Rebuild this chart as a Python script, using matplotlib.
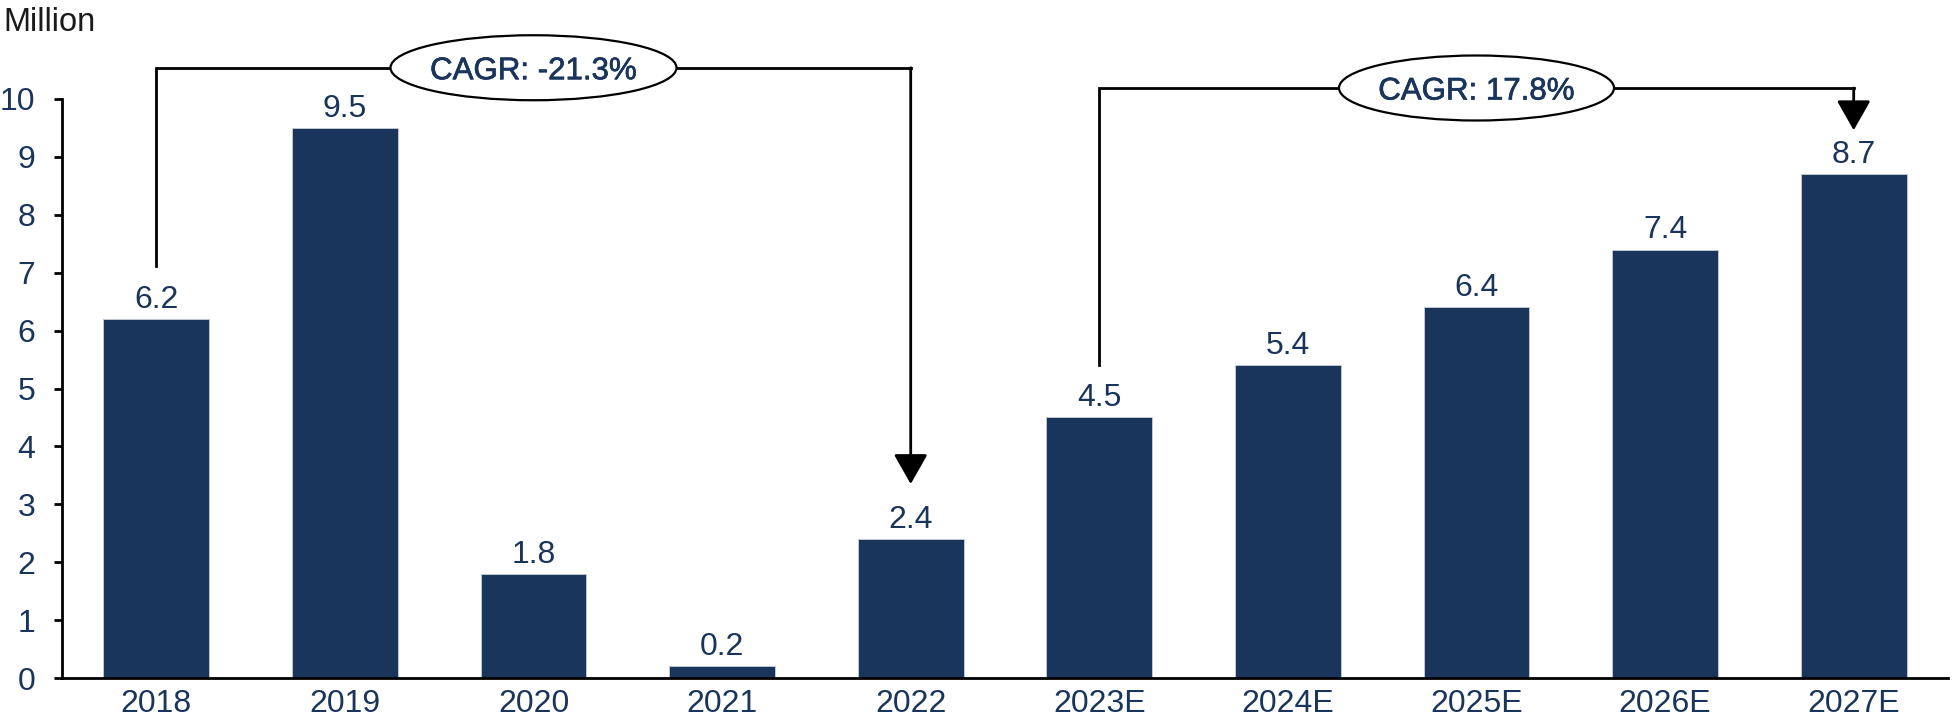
import matplotlib
matplotlib.use("Agg")
import matplotlib.pyplot as plt
from matplotlib.patches import Ellipse
import matplotlib.patheffects as pe

plt.rcParams['font.family'] = ['Liberation Sans', 'DejaVu Sans']

# ---- data ----
categories = ["2018", "2019", "2020", "2021", "2022",
              "2023E", "2024E", "2025E", "2026E", "2027E"]
values = [6.2, 9.5, 1.8, 0.2, 2.4, 4.5, 5.4, 6.4, 7.4, 8.7]
value_labels = ["6.2", "9.5", "1.8", "0.2", "2.4", "4.5", "5.4", "6.4", "7.4", "8.7"]
y_ticks = [0, 1, 2, 3, 4, 5, 6, 7, 8, 9, 10]
unit_label = "Million"
cagr_texts = ["CAGR: -21.3%", "CAGR: 17.8%"]
cagr_from = [0, 5]   # index of start bar
cagr_to = [4, 9]     # index of end bar

# ---- style ----
NAVY = "#1A355B"
W, H, DPI = 1953, 728, 100

fig = plt.figure(figsize=(W / DPI, H / DPI), dpi=DPI)
ax = fig.add_axes([62 / W, 50 / H, (1948 - 62) / W, (678 - 99) / H])

x = list(range(len(categories)))
ax.bar(x, values, width=0.56, color=NAVY, edgecolor="#c9ced6", linewidth=0.6, zorder=2)

for xi, v, lab in zip(x, values, value_labels):
    ax.annotate(lab, xy=(xi, v), xytext=(0, 3), textcoords="offset points",
                ha="center", va="bottom", fontsize=23, color=NAVY)

ax.set_xlim(-0.5, len(categories) - 0.5)
ax.set_ylim(0, 10)
ax.set_yticks(y_ticks)
ax.set_yticklabels([str(t) for t in y_ticks])
ax.set_xticks(x)
ax.set_xticklabels(categories)

for s in ["top", "right"]:
    ax.spines[s].set_visible(False)
ax.spines["left"].set_linewidth(2.0)
ax.spines["bottom"].set_linewidth(2.0)
ax.tick_params(axis="y", direction="out", length=5.8, width=2.0, pad=13.5,
               labelsize=23, labelcolor=NAVY, color="black")
ax.tick_params(axis="x", length=0, pad=8, labelsize=23, labelcolor=NAVY)

fig.text(3 / W, 1 - 31 / H, unit_label, fontsize=23.5, color="#1a1a1a",
         ha="left", va="baseline")

# ---- CAGR brackets ----
top_levels = [10.54, 10.19]
start_gap = [0.92, 0.91]
tip_gap = [0.95, 0.76]

# conversion px -> data units
px_per_x = (1948 - 62) / len(categories)
px_per_y = (678 - 99) / 10.0
ell_w_px, ell_h_px = [286, 275], [65, 65]

for k in range(2):
    i0, i1 = cagr_from[k], cagr_to[k]
    ytop = top_levels[k]
    y0 = values[i0] + start_gap[k]
    ytip = values[i1] + tip_gap[k]
    ax.plot([i0, i0, i1], [y0, ytop, ytop], color="black", lw=2.0,
            clip_on=False, zorder=3, solid_joinstyle="miter")
    ax.annotate("", xy=(i1, ytip), xytext=(i1, ytop),
                arrowprops=dict(arrowstyle="-|>,head_length=1.85,head_width=1.05",
                                mutation_scale=10, color="black", lw=2.0,
                                shrinkA=0, shrinkB=0),
                annotation_clip=False, zorder=3)
    xc = (i0 + i1) / 2
    ell = Ellipse((xc, ytop), ell_w_px[k] / px_per_x, ell_h_px[k] / px_per_y,
                  facecolor="white", edgecolor="black", lw=1.6,
                  clip_on=False, zorder=4)
    ax.add_patch(ell)
    ax.text(xc, ytop, cagr_texts[k], ha="center", va="center_baseline",
            fontsize=22.5, color=NAVY, zorder=5, clip_on=False,
            path_effects=[pe.withStroke(linewidth=0.5, foreground=NAVY)])

fig.savefig("out.png", dpi=DPI)
